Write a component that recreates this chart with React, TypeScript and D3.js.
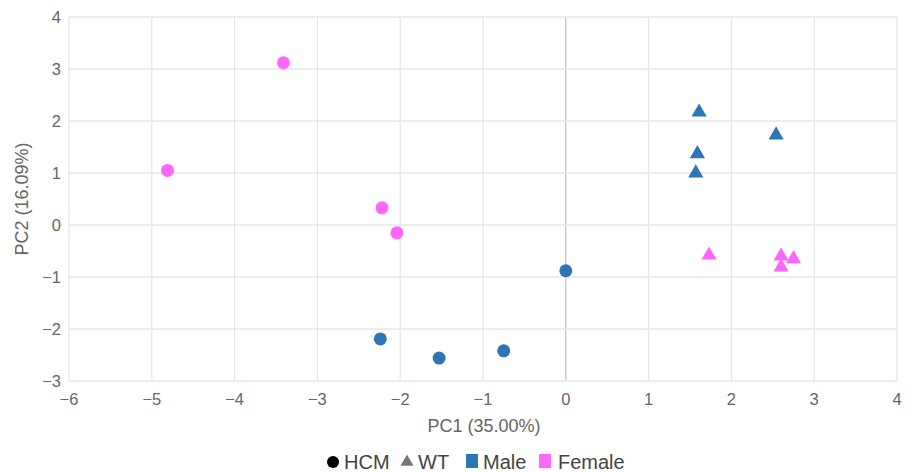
import React from "react";
import * as d3 from "d3";

const hcmFemale = [
  { x: -3.41, y: 3.12 },
  { x: -4.81, y: 1.05 },
  { x: -2.22, y: 0.33 },
  { x: -2.04, y: -0.15 },
];
const hcmMale = [
  { x: 0.0, y: -0.88 },
  { x: -2.24, y: -2.19 },
  { x: -1.53, y: -2.56 },
  { x: -0.75, y: -2.42 },
];
const wtMale = [
  { x: 1.61, y: 2.17 },
  { x: 2.54, y: 1.73 },
  { x: 1.59, y: 1.37 },
  { x: 1.57, y: 1.0 },
];
const wtFemale = [
  { x: 1.73, y: -0.58 },
  { x: 2.6, y: -0.6 },
  { x: 2.75, y: -0.65 },
  { x: 2.6, y: -0.81 },
];
const xTicks = [-6, -5, -4, -3, -2, -1, 0, 1, 2, 3, 4];
const yTicks = [-3, -2, -1, 0, 1, 2, 3, 4];

const BLUE = "#2e75b6";
const PINK = "#ff66ff";

export default function App() {
  const W = 914, H = 472;
  const x = d3.scaleLinear().domain([-6, 4]).range([69, 897]);
  const y = d3.scaleLinear().domain([-3, 4]).range([381, 17]);
  const font = "'Liberation Sans', Arial, sans-serif";
  const tri = d3.symbol().type(d3.symbolTriangle).size(100);
  const minus = (v: number) => (v < 0 ? "\u2212" + Math.abs(v) : String(v));

  return (
    <svg width={W} height={H} style={{ position: "absolute", left: 0, top: 0 }} fontFamily={font}>
      <rect width={W} height={H} fill="#fff" />
      {xTicks.map((t) => (
        <line key={"gx" + t} x1={x(t)} x2={x(t)} y1={y(4)} y2={y(-3)} stroke={t === 0 ? "#c4c4c4" : "#e6e6e6"} strokeWidth={1.3} />
      ))}
      {yTicks.map((t) => (
        <line key={"gy" + t} x1={x(-6)} x2={x(4)} y1={y(t)} y2={y(t)} stroke="#e6e6e6" strokeWidth={1.3} />
      ))}
      {xTicks.map((t) => (
        <text key={"tx" + t} x={x(t)} y={405} textAnchor="middle" fontSize={16.5} fill="#666">{minus(t)}</text>
      ))}
      {yTicks.map((t) => (
        <text key={"ty" + t} x={61} y={y(t) + 6} textAnchor="end" fontSize={16.5} fill="#666">{minus(t)}</text>
      ))}
      <text x={484} y={432} textAnchor="middle" fontSize={18} fill="#666">PC1 (35.00%)</text>
      <text transform={`translate(28,${y(0.5)}) rotate(-90)`} textAnchor="middle" fontSize={18} fill="#666">PC2 (16.09%)</text>
      {hcmFemale.map((d, i) => (
        <circle key={"hf" + i} cx={x(d.x)} cy={y(d.y)} r={6.5} fill={PINK} />
      ))}
      {hcmMale.map((d, i) => (
        <circle key={"hm" + i} cx={x(d.x)} cy={y(d.y)} r={6.5} fill={BLUE} />
      ))}
      {wtMale.map((d, i) => (
        <path key={"wm" + i} d={tri() || ""} transform={`translate(${x(d.x)},${y(d.y)})`} fill={BLUE} />
      ))}
      {wtFemale.map((d, i) => (
        <path key={"wf" + i} d={tri() || ""} transform={`translate(${x(d.x)},${y(d.y)})`} fill={PINK} />
      ))}
      <g fontSize={20} fill="#444">
        <circle cx={333} cy={462} r={6} fill="#000" />
        <text x={344} y={469}>HCM</text>
        <path d={d3.symbol().type(d3.symbolTriangle).size(75)() || ""} transform="translate(407,462)" fill="#777" />
        <text x={418} y={469}>WT</text>
        <rect x={466} y={454} width={12} height={14} fill={BLUE} />
        <text x={483} y={469}>Male</text>
        <rect x={539} y={454} width={12} height={14} fill={PINK} />
        <text x={558} y={469}>Female</text>
      </g>
    </svg>
  );
}
